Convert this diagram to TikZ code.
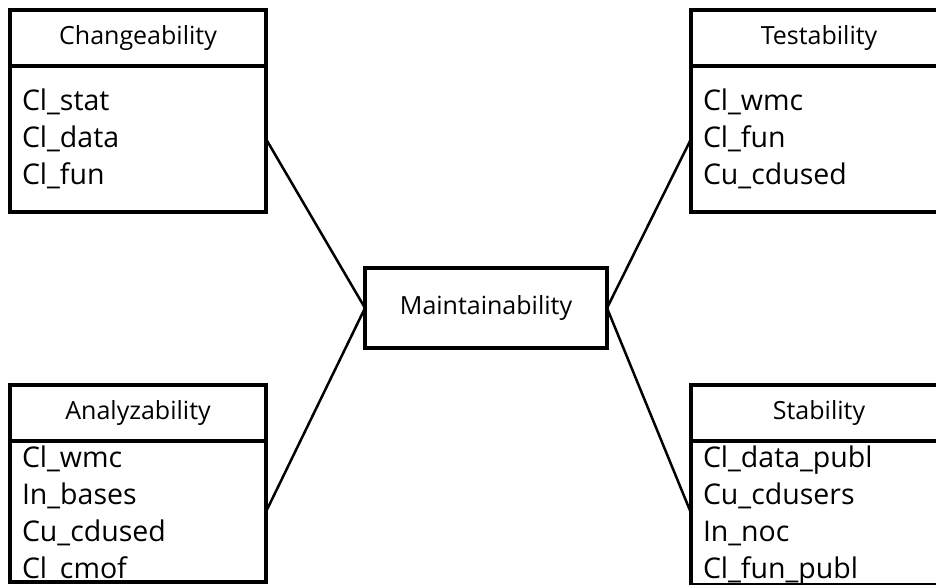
\documentclass[tikz,border=0pt]{standalone}
\usepackage{fontspec}
\setmainfont{Open Sans}
\usetikzlibrary{positioning}

\newcommand{\headfont}{\fontsize{25}{30}\selectfont}
\newcommand{\itemfont}{\fontsize{28.5}{37}\selectfont}
\newcommand{\toprow}{\rule{0pt}{26pt}}

\begin{document}
\begin{tikzpicture}[
    x=1pt, y=-1pt,
    headbox/.style={draw, line width=4pt, minimum width=256pt, minimum height=56pt, inner sep=0pt, outer sep=0pt, font=\headfont},
    bodybox/.style={draw, line width=4pt, minimum width=256pt, minimum height=146pt, text width=232pt, align=left, inner sep=0pt, outer sep=0pt, font=\itemfont},
    lowbox/.style={bodybox, minimum height=138pt},
    mainbox/.style={draw, line width=4pt, minimum width=242pt, minimum height=80pt, inner sep=0pt, outer sep=0pt, font=\headfont},
    link/.style={line width=2.5pt}
]
\useasboundingbox (0,0) rectangle (936,584);
\clip (0,0) rectangle (936,584);

% central characteristic
\node[mainbox] (main) at (486,308) {Maintainability};

% sub-characteristics
\node[headbox] (chg-head) at (138,38) {Changeability};
\node[bodybox, below=0pt of chg-head] (chg-body) {Cl\_stat\\Cl\_data\\Cl\_fun};

\node[headbox] (tst-head) at (819,38) {Testability};
\node[bodybox, below=0pt of tst-head] (tst-body) {Cl\_wmc\\Cl\_fun\\Cu\_cdused};

\node[headbox] (ana-head) at (138,413) {Analyzability};
\node[lowbox, below=0pt of ana-head] (ana-body) {\toprow Cl\_wmc\\In\_bases\\Cu\_cdused\\Cl\_cmof};

\node[headbox] (stb-head) at (819,413) {Stability};
\node[lowbox, below=0pt of stb-head] (stb-body) {\toprow Cl\_data\_publ\\Cu\_cdusers\\In\_noc\\Cl\_fun\_publ};

\draw[link] (main.west) -- (chg-body.east);
\draw[link] (main.west) -- (ana-body.east);
\draw[link] (main.east) -- (tst-body.west);
\draw[link] (main.east) -- (stb-body.west);

\end{tikzpicture}
\end{document}
